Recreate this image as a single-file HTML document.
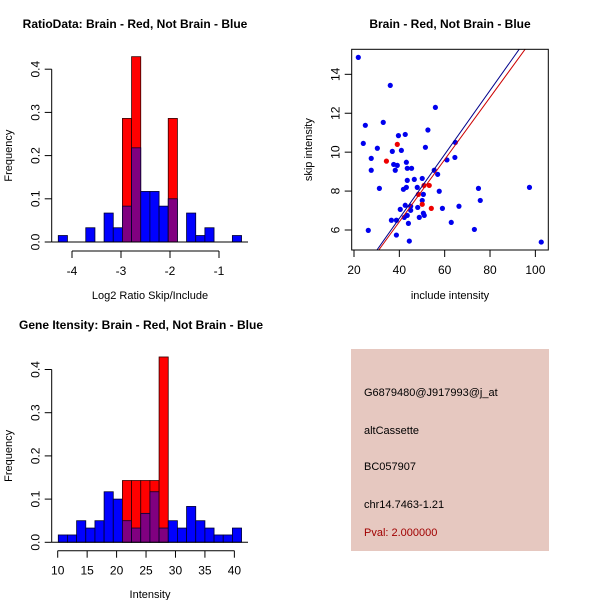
<!DOCTYPE html>
<html><head><meta charset="utf-8">
<style>
body{margin:0;background:#fff;}
svg{display:block;font-family:"Liberation Sans",sans-serif;}
</style></head>
<body>
<svg id="c" width="600" height="600" viewBox="0 0 600 600">
<rect width="600" height="600" fill="#fff"/>
<g id="p1"></g>
<g id="p2"></g>
<g id="p3"></g>
<g id="p4">
<rect x="351" y="349" width="198" height="202" fill="#e6c8c0"/>
<text x="364" y="396" font-size="11" fill="#000">G6879480@J917993@j_at</text>
<text x="364" y="434" font-size="11" fill="#000">altCassette</text>
<text x="364" y="470" font-size="11" fill="#000">BC057907</text>
<text x="364" y="508" font-size="11" fill="#000">chr14.7463-1.21</text>
<text x="364" y="536" font-size="11" fill="#a00000">Pval: 2.000000</text>
</g>
</svg>
<script>
// ---- Ratio histogram data ----
const ratioBreakStart = -4.28;
const ratioBinWidth = 0.187;
const ratioBlue = [0.015,0,0,0.033,0,0.067,0.033,0.083,0.218,0.117,0.117,0.083,0.1,0,0.067,0.015,0.033,0,0,0.015];
const ratioRed  = [0,0,0,0,0,0,0,0.286,0.429,0,0,0,0.286,0,0,0,0,0,0,0];
const ratioXTicks = [-4,-3,-2,-1];
const freqTicks = [0,0.1,0.2,0.3,0.4];
const freqTickLabels = ["0.0","0.1","0.2","0.3","0.4"];
// ---- Intensity histogram data ----
const intBreakStart = 10.1;
const intBinWidth = 1.556;
const intBlue = [0.017,0.017,0.05,0.033,0.05,0.117,0.1,0.05,0.033,0.067,0.117,0.033,0.05,0.033,0.083,0.05,0.033,0.017,0.017,0.033];
const intRed  = [0,0,0,0,0,0,0,0.143,0.143,0.143,0.143,0.429,0,0,0,0,0,0,0,0];
const intXTicks = [10,15,20,25,30,35,40];
// ---- Scatter data ----
const scatIncludeBlue = [21.9,36,25,32.9,55.9,24.1,30.3,39.6,42.6,52.6,40.9,36.9,27.6,27.6,37.5,39.1,38.2,43.1,43.5,45.4,51.5,64.7,64.5,61,55.4,56.9,43.5,46.6,50.1,31.2,41.8,43.1,47.9,57.6,74.9,97.4,75.7,50.6,50.1,42.6,45,48.1,59,66.3,40.4,50.6,51,45,42.2,48.8,43.5,36.5,38.7,44,62.9,73.1,26.3,38.7,44.4,102.6];
const scatSkipBlue    = [14.87,13.43,11.38,11.53,12.3,10.45,10.2,10.85,10.91,11.14,10.09,10.04,9.68,9.07,9.37,9.32,9.07,9.48,9.17,9.17,10.25,10.5,9.73,9.6,9.07,8.86,8.55,8.6,8.65,8.14,8.09,8.19,8.19,7.99,8.14,8.19,7.52,7.83,7.52,7.27,7.22,7.16,7.11,7.22,7.06,6.86,6.75,7.01,6.65,6.65,6.75,6.5,6.5,6.34,6.39,6.03,5.98,5.74,5.43,5.38];
const scatIncludeRed = [39.1,34.3,50.9,53.2,48.4,50.1,54.1];
const scatSkipRed    = [10.4,9.54,8.29,8.29,7.83,7.32,7.11];
const fitBlue = [0.02,0.1644];
const fitRed  = [0.03,0.1598];
const scatXTicks = [20,40,60,80,100];
const scatYTicks = [6,8,10,12,14];

const NS="http://www.w3.org/2000/svg";
function mk(parent,tag,attrs){const e=document.createElementNS(NS,tag);for(const k in attrs)e.setAttribute(k,attrs[k]);parent.appendChild(e);return e;}

function histogram(g,o){
  const sx=v=>o.x0+(v-o.v0)*o.kx, sy=v=>o.y0-v*o.ky;
  const t=mk(g,'text',{x:o.titleX,y:o.titleY,'font-size':12,'font-weight':'bold','text-anchor':'middle'});t.textContent=o.title;
  
  
  const n=o.blue.length;
  for(let i=0;i<n;i++){
    const a=sx(o.start+i*o.w), b=sx(o.start+(i+1)*o.w);
    const bl=o.blue[i], rd=o.red[i];
    if(rd>0){const r=mk(g,'rect',{x:a,y:sy(rd),width:b-a,height:rd*o.ky,fill:'#ff0000',stroke:'#300','stroke-width':0.8});
      
      }
    if(bl>0){const fill=(rd>0)?'#800080':'#0000ff';
      const r=mk(g,'rect',{x:a,y:sy(bl),width:b-a,height:bl*o.ky,fill:fill,stroke:'#000030','stroke-width':0.8});
      
      }
  }
  mk(g,'line',{x1:o.axX,x2:248,y1:o.y0,y2:o.y0,stroke:'#000'});
  // x axis
  const xa=o.xTicks;
  mk(g,'line',{x1:sx(xa[0]),x2:sx(xa[xa.length-1]),y1:o.xAxisY,y2:o.xAxisY,stroke:'#000'});
  xa.forEach(v=>{mk(g,'line',{x1:sx(v),x2:sx(v),y1:o.xAxisY,y2:o.xAxisY+7,stroke:'#000'});
    const l=mk(g,'text',{x:sx(v),y:o.xAxisY+24,'font-size':12,'text-anchor':'middle'});l.textContent=v;
    
    });
  // y axis
  mk(g,'line',{x1:o.axX,x2:o.axX,y1:sy(0),y2:sy(0.4),stroke:'#000'});
  freqTicks.forEach((v,i)=>{mk(g,'line',{x1:o.axX-7,x2:o.axX,y1:sy(v),y2:sy(v),stroke:'#000'});
    const l=mk(g,'text',{x:0,y:0,'font-size':12,'text-anchor':'middle',transform:`translate(${o.axX-12},${sy(v)}) rotate(-90)`});l.textContent=freqTickLabels[i];
    
    });
  const yl=mk(g,'text',{x:0,y:0,'font-size':11,'text-anchor':'middle',transform:`translate(${12},${(sy(0)+sy(0.4))/2}) rotate(-90)`});yl.textContent='Frequency';
  
  
  const xl=mk(g,'text',{x:150,y:o.xlabY,'font-size':11,'text-anchor':'middle'});xl.textContent=o.xlab;
  
  
}

histogram(document.getElementById('p1'),{title:'RatioData: Brain - Red, Not Brain - Blue',titleX:135,titleY:28,
  v0:-4,x0:72,kx:49,y0:242,ky:432,start:ratioBreakStart,w:ratioBinWidth,blue:ratioBlue,red:ratioRed,
  xTicks:ratioXTicks,xAxisY:251,axX:51.7,xlab:'Log2 Ratio Skip/Include',xlabY:299});
histogram(document.getElementById('p3'),{title:'Gene Itensity: Brain - Red, Not Brain - Blue',titleX:141,titleY:329,
  v0:10,x0:57.7,kx:5.889,y0:542.3,ky:432,start:intBreakStart,w:intBinWidth,blue:intBlue,red:intRed,
  xTicks:intXTicks,xAxisY:550.7,axX:51.7,xlab:'Intensity',xlabY:598});

// Scatter
(function(){
  const g=document.getElementById('p2');
  const L=351.7,R=548.3,T=49.3,B=250;
  const sx=v=>354+(v-20)*2.267, sy=v=>230-(v-6)*19.46;
  const t=mk(g,'text',{x:450,y:28,'font-size':12,'font-weight':'bold','text-anchor':'middle'});t.textContent='Brain - Red, Not Brain - Blue';
  
  
  const cp=mk(g,'clipPath',{id:'clipS'});mk(cp,'rect',{x:L,y:T,width:R-L,height:B-T});
  const pts=mk(g,'g',{'clip-path':'url(#clipS)'});
  scatIncludeBlue.forEach((x,i)=>{const c=mk(pts,'circle',{cx:sx(x),cy:sy(scatSkipBlue[i]),r:2.6,fill:'#0000ee'});
    
    });
  scatIncludeRed.forEach((x,i)=>{const c=mk(pts,'circle',{cx:sx(x),cy:sy(scatSkipRed[i]),r:2.6,fill:'#ee0000'});
    
    });
  [[fitBlue,'#00008b','blue-fit-line'],[fitRed,'#cc0000','red-fit-line']].forEach(([f,col,nm])=>{
    const l=mk(pts,'line',{x1:sx(10),y1:sy(f[0]+f[1]*10),x2:sx(110),y2:sy(f[0]+f[1]*110),stroke:col,'stroke-width':1});
    
    });
  mk(g,'rect',{x:L,y:T,width:R-L,height:B-T,fill:'none',stroke:'#000'});
  scatXTicks.forEach(v=>{mk(g,'line',{x1:sx(v),x2:sx(v),y1:B,y2:B+7,stroke:'#000'});
    const l=mk(g,'text',{x:sx(v),y:B+24,'font-size':12,'text-anchor':'middle'});l.textContent=v;
    
    });
  scatYTicks.forEach(v=>{mk(g,'line',{x1:L-7,x2:L,y1:sy(v),y2:sy(v),stroke:'#000'});
    const l=mk(g,'text',{x:0,y:0,'font-size':12,'text-anchor':'middle',transform:`translate(${L-12},${sy(v)}) rotate(-90)`});l.textContent=v;
    
    });
  const yl=mk(g,'text',{x:0,y:0,'font-size':11,'text-anchor':'middle',transform:`translate(312,${(T+B)/2}) rotate(-90)`});yl.textContent='skip intensity';
  
  
  const xl=mk(g,'text',{x:450,y:299,'font-size':11,'text-anchor':'middle'});xl.textContent='include intensity';
  
  
})();
</script>
</body></html>
